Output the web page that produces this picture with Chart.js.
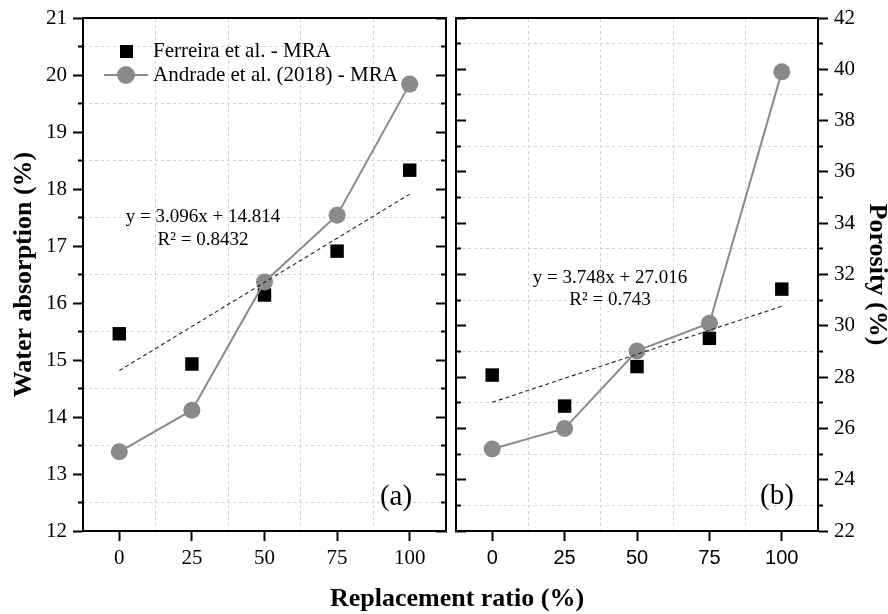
<!DOCTYPE html>
<html>
<head>
<meta charset="utf-8">
<script src="https://cdn.jsdelivr.net/npm/chart.js@4/dist/chart.umd.min.js"></script>
<style>
    html, body { margin: 0; padding: 0; background: #fff; }
    #wrap { position: relative; width: 888px; height: 614px; overflow: hidden; font-family: 'Liberation Serif', 'Times New Roman', serif; color: #000; }
    canvas { position: absolute; top: 0; }
    .t { position: absolute; white-space: nowrap; }
    .c { transform: translateX(-50%); }
    .mk { position: absolute; }
</style>
</head>
<body>
<div id="wrap">
    <canvas id="chartA" width="450" height="614" style="left:0"></canvas>
    <canvas id="chartB" width="438" height="614" style="left:450px"></canvas>

    <!-- legend of panel (a) -->
    <div class="mk" style="left:104px;top:74px;width:44px;height:2px;background:#8a8a8a"></div>
    <div class="mk" style="left:117px;top:66px;width:18px;height:18px;border-radius:50%;background:#8a8a8a"></div>
    <div class="mk" style="left:120px;top:45px;width:13px;height:13px;background:#000"></div>
    <div class="t" style="left:153px;top:40px;font-size:21px;line-height:21px">Ferreira et al. - MRA</div>
    <div class="t" style="left:153px;top:64px;font-size:21px;line-height:21px">Andrade et al. (2018) - MRA</div>

    <!-- fitted equations -->
    <div class="t c" style="left:203px;top:206px;font-size:19px;line-height:19px">y = 3.096x + 14.814</div>
    <div class="t c" style="left:203px;top:229px;font-size:19px;line-height:19px">R² = 0.8432</div>
    <div class="t c" style="left:610px;top:267px;font-size:19px;line-height:19px">y = 3.748x + 27.016</div>
    <div class="t c" style="left:610px;top:289px;font-size:19px;line-height:19px">R² = 0.743</div>

    <!-- panel tags -->
    <div class="t c" style="left:396px;top:481px;font-size:29px;line-height:29px">(a)</div>
    <div class="t c" style="left:777px;top:480px;font-size:29px;line-height:29px">(b)</div>

    <div class="t c" style="left:457px;top:585px;font-size:26px;line-height:26px;font-weight:bold">Replacement ratio (%)</div>
</div>

<script>
// ---- data ----
const ratios = [0, 25, 50, 75, 100];
const ratioTicks = [0, 25, 50, 75, 100];

const waterFerreira = [15.46, 14.93, 16.14, 16.91, 18.33];
const waterAndrade = [13.39, 14.12, 16.37, 17.54, 19.84];
const waterTrendX = [0, 100];
const waterTrendY = [14.814, 17.91];
const waterTicks = [12, 13, 14, 15, 16, 17, 18, 19, 20, 21];

const porosityFerreira = [28.08, 26.87, 28.41, 29.51, 31.43];
const porosityAndrade = [25.2, 26.0, 29.02, 30.1, 39.9];
const porosityTrendX = [0, 100];
const porosityTrendY = [27.016, 30.764];
const porosityTicks = [22, 24, 26, 28, 30, 32, 34, 36, 38, 40, 42];

// ---- styling ----
const serif = "'Liberation Serif', 'Times New Roman', serif";
const sans = "'Liberation Sans', Arial, sans-serif";
const gridGray = '#d2d2d2';
const markGray = '#8a8a8a';

function pts(xs, ys) {
    return xs.map((x, i) => ({ x: x, y: ys[i] }));
}
// minor positions halfway between the labelled ticks
function between(values) {
    const out = [];
    for (let i = 0; i < values.length - 1; i++) out.push((values[i] + values[i + 1]) / 2);
    return out;
}
const setTicks = (values) => (s) => { s.ticks = values.map((v) => ({ value: v })); };
// fixed box sizes; label overhang must not move the plot area
const fixWidth = (w) => (s) => { s.width = w; s.paddingTop = 0; s.paddingBottom = 0; };
const fixHeight = (h) => (s) => { s.height = h; s.paddingLeft = 0; s.paddingRight = 0; };

function xScales(tickFont) {
    return {
        xGrid: {
            axis: 'x', type: 'linear', position: 'top', min: -12.5, max: 112.5,
            afterBuildTicks: setTicks(between(ratioTicks)), afterFit: fixHeight(18),
            ticks: { display: false },
            grid: { color: gridGray, lineWidth: 1, drawTicks: false },
            border: { color: '#000', width: 2, dash: [3, 3] },
        },
        x: {
            axis: 'x', type: 'linear', position: 'bottom', min: -12.5, max: 112.5,
            afterBuildTicks: setTicks(ratioTicks), afterFit: fixHeight(83),
            ticks: { font: tickFont, color: '#000', padding: 5, autoSkip: false, maxRotation: 0 },
            grid: { drawOnChartArea: false, tickLength: 10, tickWidth: 2, tickColor: '#000' },
            border: { color: '#000', width: 2 },
        },
    };
}

// a tick-only axis (no labels); negative length draws the marks into the plot
function markAxis(position, min, max, values, length, gridOn, borderOn) {
    return {
        axis: 'y', type: 'linear', position: position, min: min, max: max,
        afterBuildTicks: setTicks(values), afterFit: fixWidth(0),
        ticks: { display: false },
        grid: {
            drawOnChartArea: gridOn, color: gridGray, lineWidth: 1,
            tickLength: length, tickWidth: 2, tickColor: '#000',
        },
        border: { display: borderOn, color: '#000', width: 2, dash: [3, 3] },
    };
}

function datasets(ferreira, andrade, trendX, trendY, squaresOnTop) {
    const sq = {
        label: 'Ferreira et al. - MRA', data: pts(ratios, ferreira), xAxisID: 'x', yAxisID: 'y',
        showLine: false, pointStyle: 'rect', pointRadius: 9.5, pointBorderWidth: 0,
        backgroundColor: '#000', borderColor: '#000',
    };
    const ci = {
        label: 'Andrade et al. (2018) - MRA', data: pts(ratios, andrade), xAxisID: 'x', yAxisID: 'y',
        showLine: true, pointStyle: 'circle', pointRadius: 8.5, pointBorderWidth: 0,
        backgroundColor: markGray, borderColor: markGray, borderWidth: 2,
    };
    const tr = {
        label: 'trend', data: pts(trendX, trendY), xAxisID: 'x', yAxisID: 'y',
        showLine: true, pointRadius: 0, borderColor: '#222', borderWidth: 1.1, borderDash: [4, 3],
    };
    return squaresOnTop ? [tr, sq, ci] : [tr, ci, sq];
}

const common = {
    responsive: false,
    animation: false,
    events: [],
    plugins: { legend: { display: false }, tooltip: { enabled: false } },
};

// panel (a): water absorption
new Chart(document.getElementById('chartA'), {
    type: 'scatter',
    data: { datasets: datasets(waterFerreira, waterAndrade, waterTrendX, waterTrendY, false) },
    options: Object.assign({}, common, {
        layout: { autoPadding: false, padding: { top: 0, right: 4, bottom: 0, left: 0 } },
        scales: Object.assign(xScales({ family: serif, size: 21 }), {
            yHalf: markAxis('left', 12, 21, between(waterTicks), 5, true, false),
            y: {
                axis: 'y', type: 'linear', position: 'left', min: 12, max: 21,
                afterBuildTicks: setTicks(waterTicks), afterFit: fixWidth(83),
                ticks: { font: { family: serif, size: 21 }, color: '#000', padding: 6, autoSkip: false },
                grid: { drawOnChartArea: false, tickLength: 10, tickWidth: 2, tickColor: '#000' },
                border: { color: '#000', width: 2 },
                title: {
                    display: true, text: 'Water absorption (%)', color: '#000',
                    font: { family: serif, size: 26, weight: 'bold' }, padding: { top: 9, bottom: 0 },
                },
            },
            yInHalf: markAxis('right', 12, 21, between(waterTicks), -5, false, false),
            yInMajor: markAxis('right', 12, 21, waterTicks, -10, false, true),
        }),
    }),
});

// panel (b): porosity
new Chart(document.getElementById('chartB'), {
    type: 'scatter',
    data: { datasets: datasets(porosityFerreira, porosityAndrade, porosityTrendX, porosityTrendY, true) },
    options: Object.assign({}, common, {
        layout: { autoPadding: false, padding: { top: 0, right: 0, bottom: 0, left: 6 } },
        scales: Object.assign(xScales({ family: sans, size: 20 }), {
            yOddL: markAxis('left', 22, 42, between(porosityTicks), -5, true, false),
            yEvenL: markAxis('left', 22, 42, porosityTicks, -10, false, true),
            yOddR: markAxis('right', 22, 42, between(porosityTicks), 5, false, false),
            y: {
                axis: 'y', type: 'linear', position: 'right', min: 22, max: 42,
                afterBuildTicks: setTicks(porosityTicks), afterFit: fixWidth(70),
                ticks: { font: { family: serif, size: 21 }, color: '#000', padding: 6, autoSkip: false },
                grid: { drawOnChartArea: false, tickLength: 10, tickWidth: 2, tickColor: '#000' },
                border: { color: '#000', width: 2 },
                title: {
                    display: true, text: 'Porosity (%)', color: '#000',
                    font: { family: serif, size: 26, weight: 'bold', lineHeight: 0.9 }, padding: { top: 0, bottom: 0 },
                },
            },
        }),
    }),
});
</script>
</body>
</html>
